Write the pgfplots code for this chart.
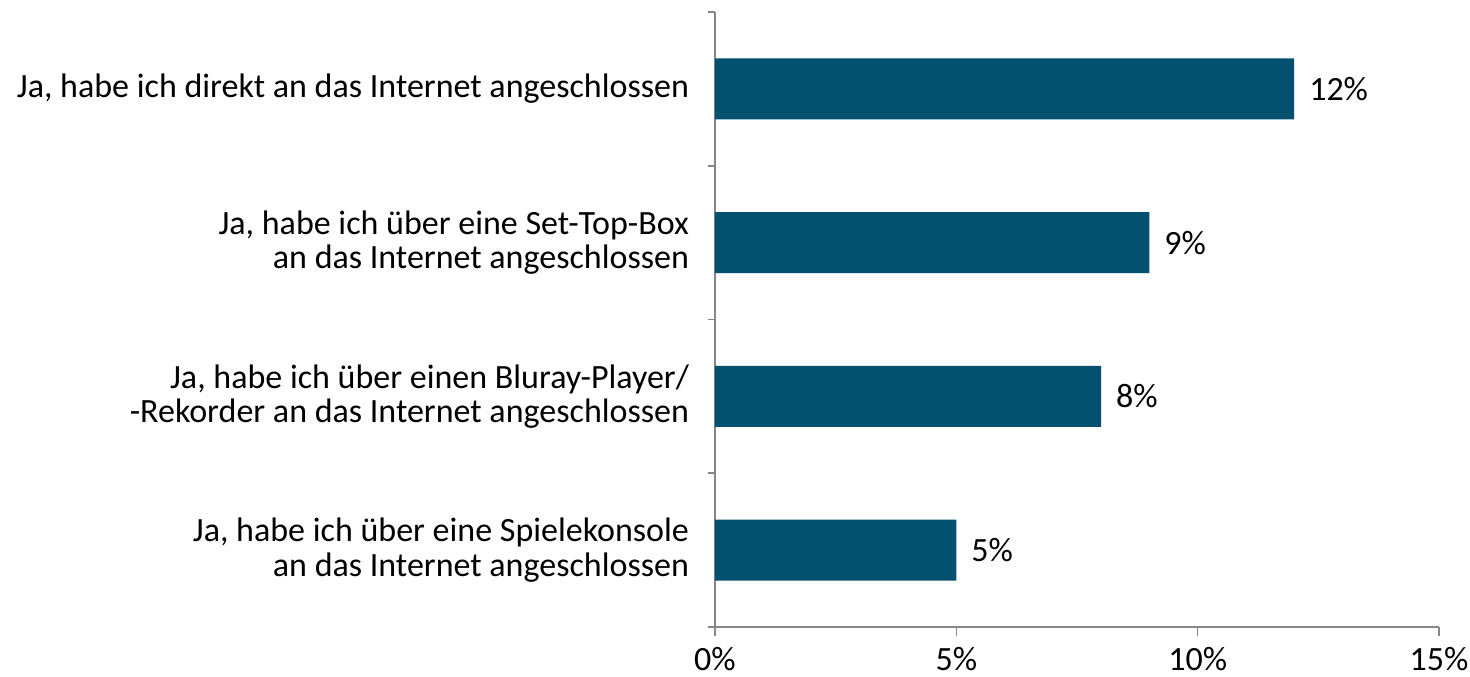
\documentclass[border=0pt]{standalone}
\usepackage{pgfplots}
\pgfplotsset{compat=1.18}
\usepackage{fontspec}
\setmainfont{Carlito}
\definecolor{barc}{RGB}{3,81,110}
\definecolor{axc}{RGB}{134,134,134}
\begin{document}
\begin{tikzpicture}
\begin{axis}[
  scale only axis,
  width=362pt, height=307.5pt,
  xbar, bar width=30.5pt,
  xmin=0, xmax=15,
  ymin=-0.5, ymax=3.5,
  y dir=reverse,
  xtick={0,5,10,15},
  xticklabel={\pgfmathprintnumber{\tick}\%},
  ytick={0,1,2,3},
  yticklabels={{Ja, habe ich direkt an das Internet angeschlossen},
    {Ja, habe ich über eine Set-Top-Box\\an das Internet angeschlossen},
    {Ja, habe ich über einen Bluray-Player/\\-Rekorder an das Internet angeschlossen},
    {Ja, habe ich über eine Spielekonsole\\an das Internet angeschlossen}},
  minor ytick={-0.5,0.5,1.5,2.5,3.5},
  major y tick style={draw=none},
  minor y tick style={axc, line width=0.8pt},
  minor tick length=3.5pt,
  x tick style={axc, line width=0.8pt},
  major tick length=4.5pt,
  tick align=outside,
  xtick pos=bottom, ytick pos=left,
  axis x line*=bottom, axis y line*=left,
  axis line style={axc, line width=0.8pt, -},
  separate axis lines,
  ticklabel style={font=\fontsize{17}{17.2}\selectfont, text=black},
  yticklabel style={align=right, xshift=-5pt},
  xticklabel style={yshift=-2pt},
  /pgf/number format/assume math mode=true,
  nodes near coords={\pgfmathprintnumber{\pgfplotspointmeta}\%},
  nodes near coords style={font=\fontsize{17}{17.2}\selectfont, anchor=west, xshift=4pt, text=black},
  point meta=x,
  clip=false,
]
\addplot[fill=barc, draw=none] coordinates {(12,0) (9,1) (8,2) (5,3)};
\coordinate (O) at (rel axis cs:0,0);
\end{axis}
\pgfresetboundingbox
\path ([xshift=-357.5pt,yshift=-24.5pt]O) rectangle ([xshift=377.5pt,yshift=313.5pt]O);
\end{tikzpicture}
\end{document}
